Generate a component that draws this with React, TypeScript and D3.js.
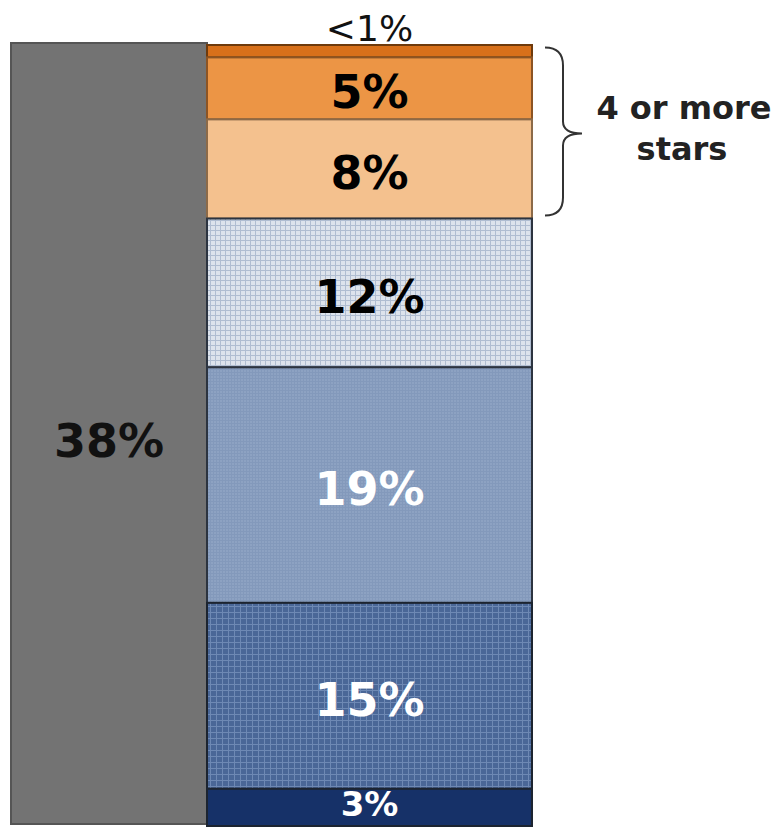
import React from "react";
import * as d3 from "d3";

const segmentLabels = ["<1%", "5%", "8%", "12%", "19%", "15%", "3%"];
const segmentValues = [1, 5, 8, 12, 19, 15, 3];
const segmentFills = ["#d8701a", "#ec9545", "#f4c18e", "url(#pLight)", "url(#pMid)", "url(#pDark)", "#163168"];
const segmentStrokes = ["#6e3a0c", "#8c5424", "#8c6a48", "#2c3440", "#2c3440", "#1c2430", "#1c2430"];
const labelColors = ["#000", "#000", "#000", "#000", "#fff", "#fff", "#fff"];
const grayLabel = "38%";
const bracketLabel = ["4 or more", "stars"];

const W = 772;
const H = 827;
const FONT = "'DejaVu Sans', Verdana, sans-serif";

export default function App() {
  const total = d3.sum(segmentValues);
  const y = d3.scaleLinear().domain([0, total]).range([45, 826]);
  const ends = d3.cumsum(segmentValues);
  const segs = segmentValues.map((v, i) => ({
    label: segmentLabels[i],
    y0: ends[i] - v,
    y1: ends[i],
    fill: segmentFills[i],
    stroke: segmentStrokes[i],
    color: labelColors[i],
  }));
  const sx = 207;
  const sw = 532 - 207;
  const gx = 11;
  const gw = 207 - 11;
  const bracketTop = y(1) - 10;
  const bracketBottom = y(14) - 3;
  const bx = 545;
  const bv = 563;
  const tip = (bracketTop + bracketBottom) / 2 + 2;
  const bracketPath = `M${bx},${bracketTop} Q${bv},${bracketTop} ${bv},${bracketTop + 18} L${bv},${tip - 12} Q${bv},${tip} ${bv + 19},${tip} Q${bv},${tip} ${bv},${tip + 12} L${bv},${bracketBottom - 18} Q${bv},${bracketBottom} ${bx},${bracketBottom}`;

  return (
    <svg width={W} height={H} style={{ position: "absolute", left: 0, top: 0, background: "#fff" }} fontFamily={FONT}>
      <defs>
        <pattern id="pLight" width="5" height="5" patternUnits="userSpaceOnUse">
          <rect width="5" height="5" fill="#dde3ec" />
          <path d="M0,0.5 H5 M0.5,0 V5" stroke="#b0bdd1" strokeWidth="1" />
        </pattern>
        <pattern id="pMid" width="3" height="3" patternUnits="userSpaceOnUse">
          <rect width="3" height="3" fill="#8da2c2" />
          <path d="M0,0.5 H3 M0.5,0 V3" stroke="#8399bb" strokeWidth="1" />
        </pattern>
        <pattern id="pDark" width="6" height="6" patternUnits="userSpaceOnUse">
          <rect width="6" height="6" fill="#4a6797" />
          <path d="M0,0.5 H6 M0.5,0 V6" stroke="#6e89b4" strokeWidth="1" />
        </pattern>
      </defs>

      {/* gray bar */}
      <rect x={gx} y={y(0) - 2} width={gw} height={y(total) - y(0)} fill="#737373" stroke="#555" strokeWidth={2} />
      <text x={gx + gw / 2} y={(y(0) - 2 + y(total)) / 2 + 22} textAnchor="middle" fontSize={46} fontWeight="bold" fill="#111">
        {grayLabel}
      </text>

      {/* stacked segments */}
      {segs.map((s, i) => (
        <rect key={"r" + i} x={sx} y={y(s.y0)} width={sw} height={y(s.y1) - y(s.y0)} fill={s.fill} stroke={s.stroke} strokeWidth={2} />
      ))}
      {segs.map((s, i) =>
        i === 0 ? (
          <text key={"t" + i} x={sx + sw / 2} y={y(s.y0) - 4} textAnchor="middle" fontSize={36} fill="#111">
            {s.label}
          </text>
        ) : i === segs.length - 1 ? (
          <text key={"t" + i} x={sx + sw / 2} y={y(s.y1) - 10} textAnchor="middle" fontSize={34} fontWeight="bold" fill={s.color}>
            {s.label}
          </text>
        ) : (
          <text key={"t" + i} x={sx + sw / 2} y={(y(s.y0) + y(s.y1)) / 2 + 20} textAnchor="middle" fontSize={46} fontWeight="bold" fill={s.color}>
            {s.label}
          </text>
        )
      )}

      {/* bracket */}
      <path d={bracketPath} fill="none" stroke="#333" strokeWidth={2} />
      <text x={684} y={119} textAnchor="middle" fontSize={32} fontWeight="bold" fill="#222">
        {bracketLabel[0]}
      </text>
      <text x={682} y={160} textAnchor="middle" fontSize={32} fontWeight="bold" fill="#222">
        {bracketLabel[1]}
      </text>
    </svg>
  );
}
